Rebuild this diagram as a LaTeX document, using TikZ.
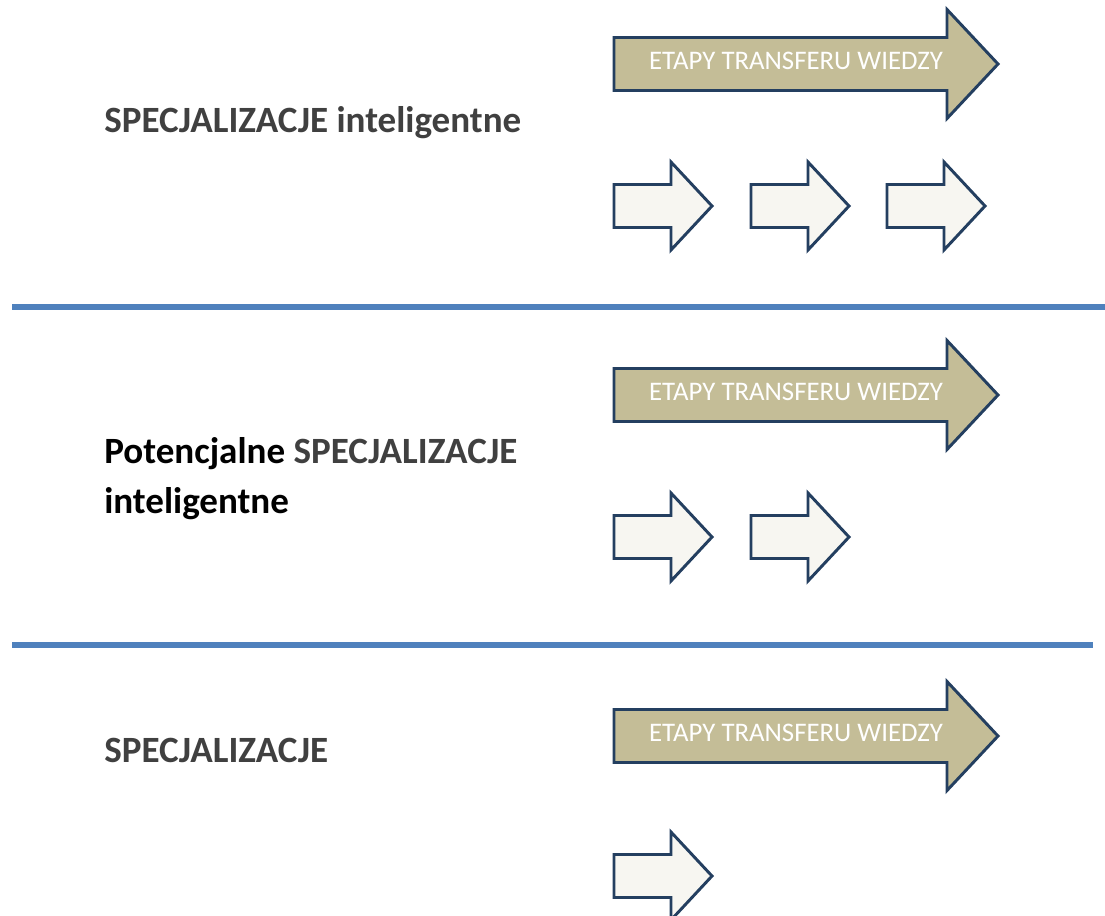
\documentclass[tikz,border=0pt]{standalone}
\usepackage{fontspec}
\setmainfont{Carlito}
\definecolor{arrowtan}{HTML}{C4BD97}
\definecolor{arrowpale}{HTML}{F7F6F1}
\definecolor{arrowline}{HTML}{243F60}
\definecolor{rulecol}{HTML}{4F81BD}
\definecolor{labgray}{HTML}{404040}
% big arrow: left end at (#1), 384 px long
\newcommand{\bigarrow}[1]{%
  \path[bigarr] (#1) ++(0,-26.5) -- ++(333,0) -- ++(0,-28) -- ++(51,54.5)
    -- ++(-51,54.5) -- ++(0,-28) -- ++(-333,0) -- cycle;}
% small arrow: left end at (#1), 98 px long
\newcommand{\smallarrow}[1]{%
  \path[smallarr] (#1) ++(0,-21.5) -- ++(57,0) -- ++(0,-22.5) -- ++(41,44)
    -- ++(-41,44) -- ++(0,-22.5) -- ++(-57,0) -- cycle;}
\begin{document}
\begin{tikzpicture}[x=0.75pt,y=-0.75pt,
  bigarr/.style={draw=arrowline,fill=arrowtan,line width=2.2pt,line join=miter},
  smallarr/.style={draw=arrowline,fill=arrowpale,line width=2.2pt,line join=miter},
  stagetext/.style={anchor=base,text=white,font=\fontsize{20.1}{24}\selectfont},
  rowlabel/.style={anchor=base west,font=\fontsize{27.8}{37.5}\selectfont\bfseries,
    align=left,inner sep=0pt},
  separator/.style={draw=rulecol,line width=4.5pt}]
\useasboundingbox (0,0) rectangle (1105,915);

% row 1
\node[rowlabel,text=labgray] (spec1) at (104,132) {SPECJALIZACJE inteligentne};
\bigarrow{614,64}
\node[stagetext] (etap1) at (796,69) {ETAPY TRANSFERU WIEDZY};
\foreach \x in {614,751,887} {\smallarrow{\x,206}}

\coordinate (sepA) at (12,307);
\coordinate (sepB) at (1105,307);
\draw[separator] (sepA) -- (sepB);

% row 2 (base anchor sits on the last line)
\node[rowlabel] (spec2) at (104,513)
 {Potencjalne \textcolor{labgray}{SPECJALIZACJE}\\inteligentne};
\bigarrow{614,395}
\node[stagetext] (etap2) at (796,400) {ETAPY TRANSFERU WIEDZY};
\foreach \x in {614,751} {\smallarrow{\x,537}}

\coordinate (sepC) at (12,645);
\coordinate (sepD) at (1093,645);
\draw[separator] (sepC) -- (sepD);

% row 3
\node[rowlabel,text=labgray] (spec3) at (104,762) {SPECJALIZACJE};
\bigarrow{614,736}
\node[stagetext] (etap3) at (796,741) {ETAPY TRANSFERU WIEDZY};
\smallarrow{614,876}
\end{tikzpicture}
\end{document}
